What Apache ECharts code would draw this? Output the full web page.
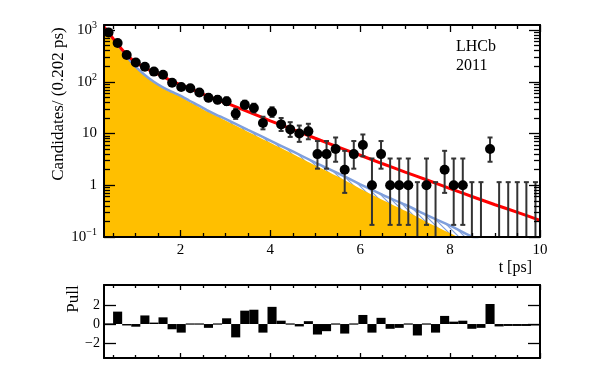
<!DOCTYPE html>
<html><head><meta charset="utf-8">
<script src="https://cdn.jsdelivr.net/npm/echarts@6/dist/echarts.min.js"></script>
<style>html,body{margin:0;padding:0;background:#fff}#c{width:598px;height:375px}</style>
</head><body><div id="c"></div>
<script>
// ---- data ----
const tMin = 0.3, tMax = 10;
const counts = [900,560,330,235,195,157,137,96,79,75,62,49,45,42,24,36,31,16,26,15,12,10,11,4,4,5,2,4,6,1,4,1,1,1,0,1,0,2,1,1,0,0,5,0,0,0,0,0];
const pulls = [0,1.3,-0.15,-0.28,0.9,0.15,0.7,-0.55,-0.9,0.1,0.05,-0.4,0.05,0.6,-1.4,1.4,1.5,-0.9,1.8,0.35,0.05,-0.25,0.3,-1.1,-0.75,0.1,-1.0,0.05,0.95,-0.9,0.65,-0.5,-0.4,-0.1,-1.2,0.05,-0.9,0.85,0.25,0.35,-0.5,-0.4,2.1,-0.25,-0.2,-0.2,-0.2,-0.15];
const fitT     = [0.3,0.4,0.5,0.6,0.7,0.8,0.9,1.0,1.2,1.4,1.6,1.8,2.0,2.2,2.4,2.6,2.8,3.0,3.5,4.0,4.5,5.0,5.5,6.0,6.5,7.0,7.5,8.0,8.5,9.0,9.5,10.0];
const totalFit = [1150,900,690,540,420,340,280,240,185,155,128,104,88,75,63,53,45.5,39.5,26.5,17.6,12.0,8.1,5.5,3.8,2.6,1.8,1.25,0.86,0.6,0.42,0.3,0.21];
const bkgFill  = [1150,880,670,520,400,310,240,190,132,97,76,62,52,41,33,26.5,21.7,17.8,10.8,6.6,4.0,2.4,1.47,0.86,0.52,0.32,0.19,0.118,0.072,0.044,0.027,0.016];
const bkgBlue  = [1150,885,675,525,405,315,245,196,137,101,79,64.5,54,43,35,28,23,19.2,11.8,7.3,4.5,2.75,1.72,1.04,0.65,0.42,0.26,0.165,0.1,0.062,0.038,0.024];
const xMajor = [2,4,6,8,10];
const xMinor = [0.5,1,1.5,2.5,3,3.5,4.5,5,5.5,6.5,7,7.5,8.5,9,9.5];
const yMajorExp = [-1,0,1,2,3];
const pullTicks = [-2,0,2];
const yMax = 1250, pullMin = -3.56, pullMax = 4.09;

// ---- derived ----
const F = '"Liberation Serif","DejaVu Serif",serif';
const nB = counts.length, bw = (tMax - tMin) / nB;
const centers = counts.map((_, i) => tMin + bw * (i + 0.5));
const L = v => Math.log10(v);
function poisLo(n){ if(n===0) return 0; const a=1-1/(9*n)-1/(3*Math.sqrt(n)); return n*a*a*a; }
function poisHi(n){ if(n===0) return 1.148; const m=n+1; const a=1-1/(9*m)+1/(3*Math.sqrt(m)); return m*a*a*a; }
const pts = [], errs = [];
counts.forEach((n,i)=>{
  if(n>0) pts.push([centers[i], L(n)]);
  const lo = poisLo(n);
  errs.push([centers[i], lo>0 ? L(lo) : -2, L(poisHi(n))]);
});
const curve = arr => fitT.map((t,i)=>[t, L(arr[i])]);
const yMinor = [];
for(let e=-1;e<=2;e++) for(let k=2;k<=9;k++) yMinor.push(e+L(k));

const hatch = document.createElement('canvas'); hatch.width=6; hatch.height=6;
const hc = hatch.getContext('2d'); hc.fillStyle='#ffffff'; hc.fillRect(0,0,6,6);
hc.strokeStyle='#7f9fdc'; hc.lineWidth=1.2; hc.beginPath();
hc.moveTo(-3,3); hc.lineTo(3,9); hc.moveTo(0,0); hc.lineTo(6,6); hc.moveTo(3,-3); hc.lineTo(9,3); hc.stroke();

const black = '#000';
const lineOff = {show:false, onZero:false};
const lineOn = {show:true, onZero:false, lineStyle:{color:black, width:2}};
function xa(grid, pos, vals, len, opts){
  return Object.assign({type:'value', gridIndex:grid, position:pos, min:tMin, max:tMax, z:10,
    axisLine:lineOff, splitLine:{show:false},
    axisTick:{show:true, inside:true, length:len, customValues:vals, lineStyle:{color:black,width:1.3}},
    axisLabel:{show:false}}, opts||{});
}
function ya(grid, pos, min, max, vals, len, opts){
  return Object.assign({type:'value', gridIndex:grid, position:pos, min:min, max:max, z:10,
    axisLine:lineOff, splitLine:{show:false},
    axisTick:{show:true, inside:true, length:len, customValues:vals, lineStyle:{color:black,width:1.3}},
    axisLabel:{show:false}}, opts||{});
}

const chart = echarts.init(document.getElementById('c'), null, {renderer:'canvas'});
chart.setOption({
  animation:false,
  backgroundColor:'#fff',
  grid:[{left:104, top:25, width:436, height:212},{left:104, top:285, width:436, height:73}],
  xAxis:[
    xa(0,'bottom',xMajor,7,{axisLine:lineOn, axisLabel:{show:true, customValues:xMajor, margin:6, fontFamily:F, fontSize:15, color:black}}),
    xa(0,'bottom',xMinor,4),
    xa(0,'top',xMajor,7,{axisLine:lineOn}),
    xa(0,'top',xMinor,4),
    xa(1,'bottom',xMajor,5,{axisLine:lineOn}),
    xa(1,'bottom',xMinor,3),
    xa(1,'top',xMajor,5,{axisLine:lineOn}),
    xa(1,'top',xMinor,3)
  ],
  yAxis:[
    ya(0,'left',-1,L(yMax),yMajorExp,11,{axisLine:lineOn, axisLabel:{show:true, customValues:yMajorExp, margin:7, fontFamily:F, fontSize:15, color:black,
      formatter:v=>{const e=Math.round(v); if(e===0) return '1'; if(e===1) return '10'; return '10{s|'+(e<0?'\u2212'+(-e):e)+'}';},
      rich:{s:{fontSize:10, fontFamily:F, color:black, padding:[0,0,9,0]}}}}),
    ya(0,'left',-1,L(yMax),yMinor,6),
    ya(0,'right',-1,L(yMax),yMajorExp,11,{axisLine:lineOn}),
    ya(0,'right',-1,L(yMax),yMinor,6),
    ya(1,'left',pullMin,pullMax,pullTicks,12,{axisLine:lineOn, axisLabel:{show:true, customValues:pullTicks, margin:4, fontFamily:F, fontSize:14, color:black,
      formatter:v=>{const r=Math.round(v); return r<0?'\u2212'+(-r):String(r);}}}),
    ya(1,'right',pullMin,pullMax,pullTicks,12,{axisLine:lineOn})
  ],
  series:[
    {type:'line', xAxisIndex:0, yAxisIndex:0, data:curve(bkgBlue), symbol:'none', smooth:0.2, z:1,
     lineStyle:{opacity:0}, areaStyle:{origin:'start', opacity:1, color:{image:hatch, repeat:'repeat'}}},
    {type:'line', xAxisIndex:0, yAxisIndex:0, data:curve(bkgFill), symbol:'none', smooth:0.2, z:2,
     lineStyle:{opacity:0}, areaStyle:{origin:'start', opacity:1, color:'#ffbf00'}},
    {type:'line', xAxisIndex:0, yAxisIndex:0, data:curve(bkgBlue), symbol:'none', smooth:0.2, z:3,
     lineStyle:{color:'#7f9fdc', width:2.5}},
    {type:'line', xAxisIndex:0, yAxisIndex:0, data:curve(totalFit), symbol:'none', smooth:0.2, z:4,
     lineStyle:{color:'#ff0000', width:3}},
    {type:'custom', xAxisIndex:0, yAxisIndex:0, data:errs, z:5, clip:true, encode:{x:0, y:[1,2]},
     renderItem:(p, api)=>{
       const x=api.value(0), a=api.coord([x, api.value(2)]), b=api.coord([x, api.value(1)]);
       const st={stroke:'#333', lineWidth:2}, c=2.5;
       return {type:'group', children:[
         {type:'line', shape:{x1:a[0],y1:a[1],x2:b[0],y2:b[1]}, style:st},
         {type:'line', shape:{x1:a[0]-c,y1:a[1],x2:a[0]+c,y2:a[1]}, style:st},
         {type:'line', shape:{x1:b[0]-c,y1:b[1],x2:b[0]+c,y2:b[1]}, style:st}
       ]};
     }},
    {type:'scatter', xAxisIndex:0, yAxisIndex:0, data:pts, symbol:'circle', symbolSize:10, z:6,
     itemStyle:{color:'#000', opacity:1}},
    {type:'custom', xAxisIndex:4, yAxisIndex:4, z:3, clip:true,
     data:pulls.map((p,i)=>[tMin+bw*i, tMin+bw*(i+1), p]), encode:{x:[0,1], y:2},
     renderItem:(p, api)=>{
       const a=api.coord([api.value(0),0]), b=api.coord([api.value(1),api.value(2)]);
       let y=Math.min(a[1],b[1]), h=Math.abs(a[1]-b[1]);
       if(h<1.2){ y=a[1]-0.6; h=1.2; }
       return {type:'rect', shape:{x:a[0], y:y, width:b[0]-a[0], height:h}, style:{fill:'#000'}};
     }}
  ],
  graphic:[
    {type:'text', x:456, y:47, z:100, style:{text:'LHCb', font:'16px '+F, fill:black, verticalAlign:'middle'}},
    {type:'text', x:456, y:66, z:100, style:{text:'2011', font:'16px '+F, fill:black, verticalAlign:'middle'}},
    {type:'text', x:532, y:268, z:100, style:{text:'t [ps]', font:'16px '+F, fill:black, align:'right', verticalAlign:'middle'}},
    {type:'text', x:59, y:104, rotation:Math.PI/2, z:100, style:{text:'Candidates/ (0.202 ps)', font:'17px '+F, fill:black, align:'center', verticalAlign:'middle'}},
    {type:'text', x:74, y:299, rotation:Math.PI/2, z:100, style:{text:'Pull', font:'17px '+F, fill:black, align:'center', verticalAlign:'middle'}}
  ]
});
</script></body></html>
